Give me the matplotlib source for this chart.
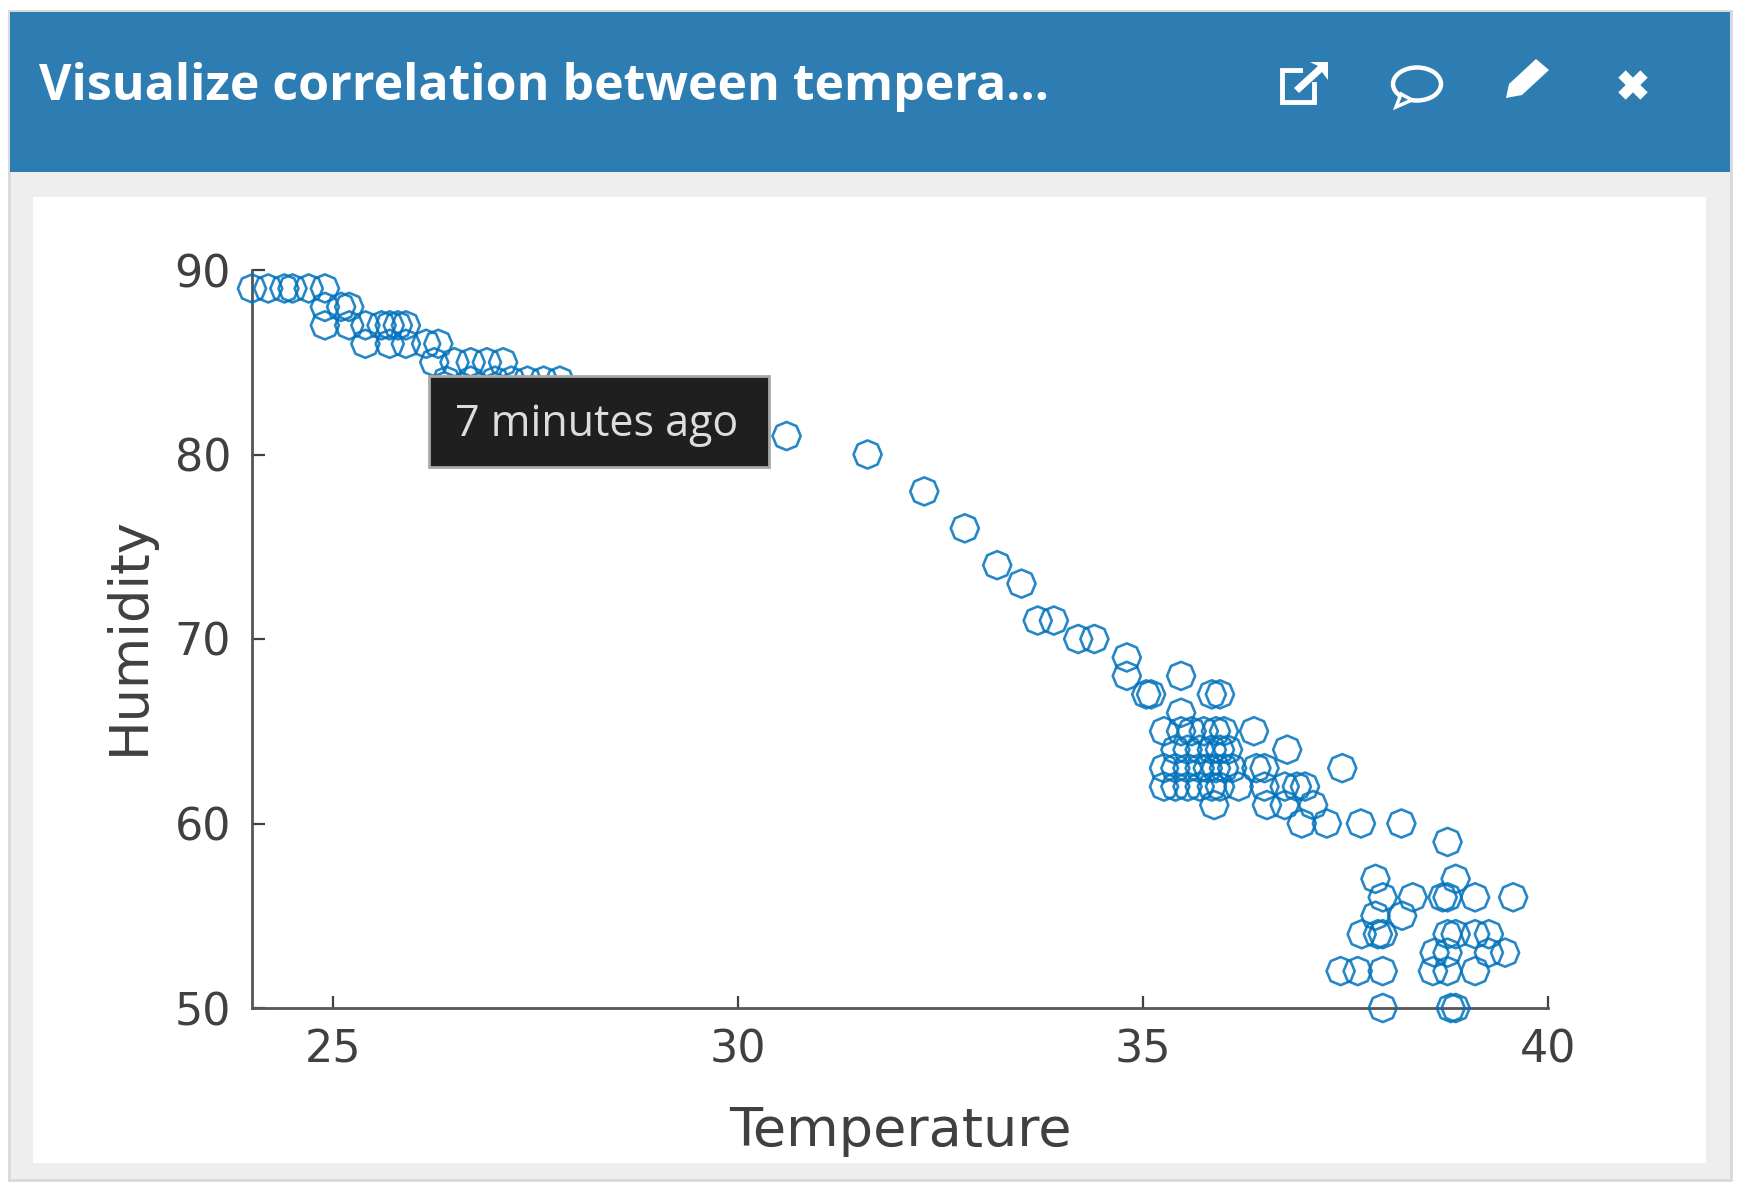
from matplotlib import pyplot as plt
from matplotlib.patches import Rectangle, Polygon, Ellipse
from matplotlib.markers import MarkerStyle
from matplotlib.transforms import Affine2D

# Values, grouped by humidity
temperature = [24.0, 24.2, 24.4, 24.5, 24.7, 24.9,
               24.9, 25.1, 25.2,
               24.9, 25.2, 25.4, 25.6, 25.7, 25.8, 25.9,
               25.4, 25.7, 25.9, 26.15, 26.3,
               26.25, 26.5, 26.7, 26.9, 27.1,
               26.4, 26.7, 27.0, 27.2, 27.4, 27.6, 27.8,
               30.6, 31.6, 32.3, 32.8, 33.2, 33.5, 33.7, 33.9, 34.2, 34.4,
               34.8, 34.8, 35.04, 35.1, 35.47, 35.85, 35.95, 35.47,
               35.26, 35.47, 35.6, 35.75, 35.9, 36.0, 36.37,
               35.4, 35.55, 35.7, 35.85, 35.95, 36.05, 36.78,
               35.26, 35.4, 35.55, 35.7, 35.8, 35.9, 36.0, 36.1, 36.4, 36.5, 37.46,
               35.26, 35.4, 35.55, 35.7, 35.85, 35.95, 36.18, 36.5, 36.75, 36.9, 37.0,
               35.88, 36.53, 36.75, 37.1,
               36.96, 37.27, 37.69, 38.19, 38.76,
               37.87, 38.86,
               37.96, 38.33, 38.7, 38.76, 39.1, 39.57,
               37.87, 38.2,
               37.7, 37.9, 37.96, 38.76, 38.86, 39.1, 39.27,
               38.6, 38.76, 39.27, 39.47,
               37.44, 37.65, 37.96, 38.58, 38.76, 39.1,
               37.96, 38.8, 38.86]
humidity = [89, 89, 89, 89, 89, 89,
            88, 88, 88,
            87, 87, 87, 87, 87, 87, 87,
            86, 86, 86, 86, 86,
            85, 85, 85, 85, 85,
            84, 84, 84, 84, 84, 84, 84,
            81, 80, 78, 76, 74, 73, 71, 71, 70, 70,
            69, 68, 67, 67, 68, 67, 67, 66,
            65, 65, 65, 65, 65, 65, 65,
            64, 64, 64, 64, 64, 64, 64,
            63, 63, 63, 63, 63, 63, 63, 63, 63, 63, 63,
            62, 62, 62, 62, 62, 62, 62, 62, 62, 62, 62,
            61, 61, 61, 61,
            60, 60, 60, 60, 59,
            57, 57,
            56, 56, 56, 56, 56, 56,
            55, 55,
            54, 54, 54, 54, 54, 54, 54,
            53, 53, 53, 53,
            52, 52, 52, 52, 52, 52,
            50, 50, 50]
x_ticks = [25, 30, 35, 40]
y_ticks = [50, 60, 70, 80, 90]

W, H = 1742, 1191
fig = plt.figure(figsize=(W/100, H/100), dpi=100, facecolor="white")

# Page furniture, in pixel coordinates
bg = fig.add_axes([0, 0, 1, 1], zorder=0)
bg.set_xlim(0, W)
bg.set_ylim(H, 0)
bg.axis("off")
bg.add_patch(Rectangle((9, 11), 1722, 1169, fc="#eeeeee", ec="#d8d8d8", lw=2))
bg.add_patch(Rectangle((10, 12), 1720, 160, fc="#2e7db2", ec="none"))
bg.add_patch(Rectangle((33, 197), 1673, 966, fc="white", ec="none"))
bg.text(39, 87, "Visualize correlation between tempera...", color="white",
        fontsize=36, fontweight="bold", family="Open Sans", va="center")

# External link icon
bg.add_patch(Rectangle((1282, 70), 32, 32, fc="none", ec="white", lw=3.5))
bg.add_patch(Rectangle((1303, 60), 26, 22, fc="#2e7db2", ec="none"))
bg.add_patch(Polygon([(1294, 88), (1318, 66), (1310, 62), (1328, 62),
                      (1328, 80), (1322, 72), (1299, 93)], fc="white", ec="none"))
# Comment icon
bg.add_patch(Ellipse((1417, 84), 48, 33, fc="none", ec="white", lw=3.2))
bg.add_patch(Polygon([(1401, 94), (1412, 100), (1396, 107)], fc="#2e7db2", ec="white", lw=2.5))
# Pencil icon
bg.add_patch(Polygon([(1506, 98), (1509, 84), (1536, 59), (1549, 70),
                      (1522, 95)], fc="white", ec="none"))
# Close icon
bg.plot([1622, 1644], [74, 96], color="white", lw=7.5, solid_capstyle="butt")
bg.plot([1622, 1644], [96, 74], color="white", lw=7.5, solid_capstyle="butt")

# The scatter chart
left, right = 252, 1548
top, bottom = 270, 1008
ax = fig.add_axes([left/W, 1 - bottom/H, (right-left)/W, (bottom-top)/H], zorder=1)
ax.patch.set_alpha(0)
marker = MarkerStyle("8", transform=Affine2D().rotate_deg(22.5))
ax.scatter(temperature, humidity, s=410, marker=marker, facecolors="none",
           edgecolors="#0072bd", linewidths=1.9, alpha=0.85, clip_on=False, zorder=3)
ax.set_xlim(24, 40)
ax.set_ylim(50, 90)
ax.set_xticks(x_ticks)
ax.set_yticks(y_ticks)
ax.spines["top"].set_visible(False)
ax.spines["right"].set_visible(False)
for s in ["left", "bottom"]:
    ax.spines[s].set_color("#555555")
    ax.spines[s].set_linewidth(2)
ax.tick_params(direction="in", length=9, width=1.6, color="#404040",
               labelsize=32, labelcolor="#404040", pad=15)
ax.set_xlabel("Temperature", fontsize=39, color="#404040", labelpad=24)
ax.set_ylabel("Humidity", fontsize=38, color="#404040")
ax.yaxis.set_label_coords(-0.075, 0.505)

# Hover tooltip on top of the chart
fg = fig.add_axes([0, 0, 1, 1], zorder=2)
fg.set_xlim(0, W)
fg.set_ylim(H, 0)
fg.axis("off")
fg.add_patch(Rectangle((429, 376), 340, 91, fc="#1f1f1f", ec="#a8a8a8", lw=2))
fg.text(597, 425, "7 minutes ago", color="#dddddd", fontsize=31, family="Open Sans",
        ha="center", va="center")

plt.savefig("out.png", dpi=100)
